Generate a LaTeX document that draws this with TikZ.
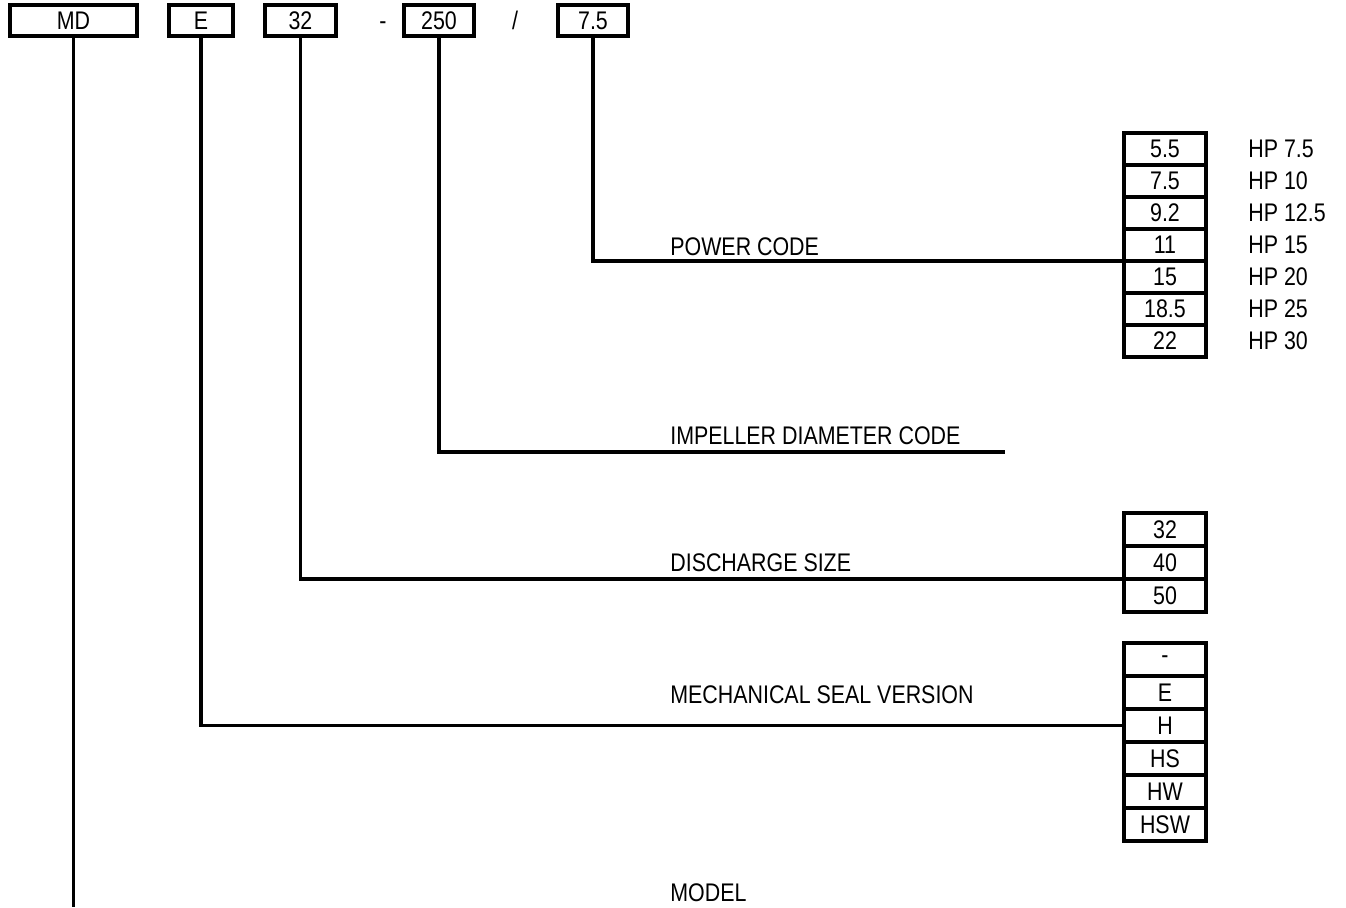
\documentclass[tikz,border=0pt]{standalone}
\usepackage{fontspec}
\setmainfont{Liberation Sans}[FakeStretch=0.84]
\usetikzlibrary{positioning}
\newcommand\codefont{\fontsize{14.5}{16}\selectfont}
\tikzset{
  codebox/.style = {draw, line width=1.8pt, minimum height=0.62cm, inner sep=0pt,
                    outer sep=0pt, font=\codefont},
  optbox/.style  = {draw, line width=1.8pt, minimum width=1.64cm, inner sep=0pt,
                    outer sep=0pt, font=\codefont},
  lead/.style    = {line width=1.9pt},
  caption/.style = {anchor=west, inner sep=0pt, font=\codefont},
  sepmark/.style = {anchor=base, inner sep=0pt, font=\codefont},
}
\begin{document}
\begin{tikzpicture}[x=0.02cm, y=-0.02cm]
  \useasboundingbox (0,0) rectangle (1346,907);
  % type code boxes
  \node[codebox, minimum width=2.54cm] (mdl) at (73.5,20.5) {MD};
  \node[codebox, minimum width=1.28cm] (msv) at (201,20.5) {E};
  \node[codebox, minimum width=1.42cm] (dsz) at (300.5,20.5) {32};
  \node[sepmark] (sep1) at (383,29) {-};
  \node[codebox, minimum width=1.40cm] (imp) at (439,20.5) {250};
  \node[sepmark] (sep2) at (515,29) {/};
  \node[codebox, minimum width=1.40cm] (pwr) at (593,20.5) {7.5};

  % power code options
  \foreach \v/\hp [count=\i] in {5.5/7.5, 7.5/10, 9.2/12.5, 11/15, 15/20, 18.5/25, 22/30} {
    \node[optbox, minimum height=0.64cm] (pw\i) at (1165, {117+32*\i}) {\v};
    \node[caption] (hp\i) at (1248, {117+32*\i}) {HP \hp};
  }
  % discharge size options
  \foreach \v [count=\i] in {32, 40, 50}
    \node[optbox, minimum height=0.66cm] (ds\i) at (1165, {496.5+33*\i}) {\v};
  % mechanical seal options
  \foreach \v [count=\i] in {-, E, H, HS, HW, HSW}
    \node[optbox, minimum height=0.66cm] (ms\i) at (1165, {626.5+33*\i}) {\v};

  % captions
  \node[caption] (lblpwr) at (670,247) {POWER CODE};
  \node[caption] (lblimp) at (670,436) {IMPELLER DIAMETER CODE};
  \node[caption] (lbldsz) at (670,563) {DISCHARGE SIZE};
  \node[caption] (lblmsv) at (670,695) {MECHANICAL SEAL VERSION};
  \node[caption] (lblmdl) at (670,893) {MODEL};

  % leader lines
  \coordinate (impend) at (1005,452);
  \coordinate (mdlend) at (73.5,907);
  \draw[lead] (pwr.south) |- (pw4.south west);
  \draw[lead] (imp.south) |- (impend);
  \draw[lead] (dsz.south) |- (ds2.south west);
  \draw[lead] (msv.south) |- (ms3.west);
  \draw[lead] (mdl.south) -- (mdlend);
\end{tikzpicture}
\end{document}
